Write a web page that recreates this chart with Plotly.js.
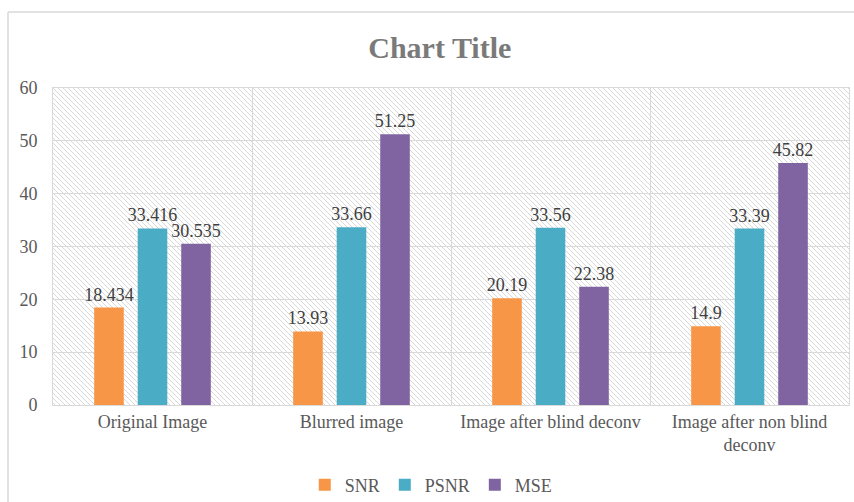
<!DOCTYPE html>
<html>
<head>
<meta charset="utf-8">
<script src="https://cdn.plot.ly/plotly-3.0.1.min.js"></script>
<style>html,body{margin:0;padding:0;background:#fff;}#chart{width:854px;height:502px;}</style>
</head>
<body>
<div id="chart"></div>
<script>
const categories = ["Original Image", "Blurred image", "Image after blind deconv", "Image after non blind<br>deconv"];
const snr = [18.434, 13.93, 20.19, 14.9];
const psnr = [33.416, 33.66, 33.56, 33.39];
const mse = [30.535, 51.25, 22.38, 45.82];
const seriesNames = ["SNR", "PSNR", "MSE"];
const seriesColors = ["#F79646", "#4BACC6", "#8064A2"];
const yTicks = [0, 10, 20, 30, 40, 50, 60];

const W = 854, H = 502;
const M = {l: 53, r: 5, t: 88, b: 97};
const pw = W - M.l - M.r, ph = H - M.t - M.b;

const svg = `<svg xmlns="http://www.w3.org/2000/svg" width="${pw}" height="${ph}"><defs><pattern id="p" patternUnits="userSpaceOnUse" width="5" height="5"><path d="M-1,4 l2,2 M0,0 l5,5 M4,-1 l2,2" stroke="#d4d4d4" stroke-width="0.9"/></pattern></defs><rect width="100%" height="100%" fill="url(#p)"/></svg>`;
const bgSrc = "data:image/svg+xml;utf8," + encodeURIComponent(svg);

const font = "Liberation Serif";
const series = [snr, psnr, mse];
const traces = series.map((vals, i) => ({
  type: "bar",
  name: seriesNames[i],
  x: categories,
  y: vals,
  text: vals.map(v => String(v)),
  textposition: "outside",
  constraintext: "none",
  cliponaxis: false,
  textfont: {family: font, size: 18, color: "#404040"},
  marker: {color: seriesColors[i]},
  hoverinfo: "none"
}));

const layout = {
  width: W, height: H,
  margin: M,
  paper_bgcolor: "#ffffff",
  plot_bgcolor: "rgba(0,0,0,0)",
  font: {family: font, color: "#595959", size: 18},
  title: {text: "<b>Chart Title</b>", x: 0.515, xanchor: "center", y: 0.906, yanchor: "middle",
          font: {family: font, size: 30, color: "#7a7a7a"}},
  barmode: "group",
  bargap: 0.344,
  bargroupgap: 0.32,
  showlegend: true,
  legend: {orientation: "h", xref: "container", yref: "container", x: 0.505, xanchor: "center",
           y: 1 - 485/502, yanchor: "middle",
           font: {family: font, size: 18, color: "#595959"}, itemwidth: 30, tracegroupgap: 0},
  xaxis: {
    type: "category",
    automargin: false,
    range: [-0.5, 3.5],
    tickson: "boundaries",
    showgrid: true, gridcolor: "#d9d9d9", gridwidth: 1,
    showline: true, linecolor: "#d9d9d9", mirror: true,
    ticks: "outside", ticklen: 12, tickcolor: "rgba(0,0,0,0)",
    tickfont: {family: font, size: 18, color: "#595959"},
    fixedrange: true
  },
  yaxis: {
    automargin: false,
    range: [0, 60],
    tickvals: yTicks,
    showgrid: true, gridcolor: "#d9d9d9", gridwidth: 1,
    zeroline: false,
    showline: true, linecolor: "#d9d9d9", mirror: true,
    ticks: "outside", ticklen: 11, tickcolor: "rgba(0,0,0,0)",
    tickfont: {family: font, size: 18, color: "#595959"},
    fixedrange: true
  },
  images: [{source: bgSrc, xref: "paper", yref: "paper", x: 0, y: 1, sizex: 1, sizey: 1,
            xanchor: "left", yanchor: "top", sizing: "stretch", layer: "below"}],
  shapes: [
    {type: "line", xref: "paper", yref: "paper", x0: -45/pw, x1: (pw + 20)/pw, y0: (ph + 76)/ph, y1: (ph + 76)/ph,
     line: {color: "#d9d9d9", width: 1.5}},
    {type: "line", xref: "paper", yref: "paper", x0: -45/pw, x1: -45/pw, y0: (ph + 76)/ph, y1: -120/ph,
     line: {color: "#d9d9d9", width: 1.5}}
  ]
};

Plotly.newPlot("chart", traces, layout, {displayModeBar: false, staticPlot: true});
</script>
</body>
</html>
